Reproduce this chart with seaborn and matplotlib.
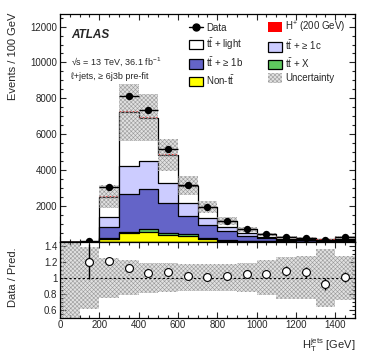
import matplotlib
matplotlib.use("Agg")
import matplotlib.pyplot as plt
import numpy as np
import seaborn as sns
from matplotlib.lines import Line2D
from matplotlib.patches import Patch
from matplotlib.ticker import MultipleLocator

# binning: 100 GeV bins from 0 to 1500
bin_edges = [0, 100, 200, 300, 400, 500, 600, 700, 800, 900, 1000, 1100, 1200, 1300, 1400, 1500]
bin_centers = [50, 150, 250, 350, 450, 550, 650, 750, 850, 950, 1050, 1150, 1250, 1350, 1450]

# stacked predictions (pre-fit), events per bin
non_tt = [0, 3, 150, 485, 560, 390, 335, 150, 80, 50, 30, 19, 15, 10, 18]
tt_x = [0, 1, 50, 90, 150, 95, 100, 55, 30, 20, 12, 8, 6, 4, 8]
tt_1b = [0, 8, 620, 2105, 2250, 1675, 1000, 745, 500, 280, 170, 110, 84, 56, 104]
tt_1c = [0, 5, 560, 1560, 1560, 1115, 740, 370, 245, 135, 85, 55, 42, 28, 52]
tt_light = [0, 8, 1150, 2990, 2400, 1565, 950, 615, 315, 225, 128, 80, 63, 42, 78]
h_plus = [0, 0, 40, 80, 60, 40, 25, 15, 8, 5, 3, 2, 1, 1, 1]

# relative uncertainty on the prediction
unc_rel = [1.0, 0.39, 0.25, 0.22, 0.19, 0.18, 0.17, 0.17, 0.17, 0.18, 0.22, 0.26, 0.27, 0.36, 0.28]

# data (bins from 100 GeV onwards)
data_x = [150, 250, 350, 450, 550, 650, 750, 850, 950, 1050, 1150, 1250, 1350, 1450]
data_y = [30, 3060, 8120, 7340, 5180, 3200, 1955, 1195, 745, 446, 296, 225, 129, 263]
ratio_err = [0.22, 0.02, 0.015, 0.015, 0.015, 0.02, 0.025, 0.03, 0.04, 0.05, 0.06, 0.07, 0.08, 0.065]

layers = [
    ("Non-tt", non_tt, "#ffff00"),
    ("ttX", tt_x, "#5fc85f"),
    ("tt1b", tt_1b, "#6464c8"),
    ("tt1c", tt_1c, "#ccccff"),
    ("ttlight", tt_light, "#ffffff"),
]
unc_face = (0.62, 0.62, 0.62, 0.3)
unc_color = "#9a9a9a"
unc_hatch = "xxxxxxxx"

sns.set_style("ticks")
plt.rcParams["font.family"] = ["Liberation Sans", "DejaVu Sans"]
plt.rcParams["mathtext.fontset"] = "custom"
plt.rcParams["mathtext.rm"] = "Liberation Sans"
plt.rcParams["mathtext.it"] = "Liberation Sans:italic"
plt.rcParams["mathtext.bf"] = "Liberation Sans:bold"
plt.rcParams["hatch.linewidth"] = 0.4
plt.rcParams["axes.linewidth"] = 0.9

fig = plt.figure(figsize=(3.74, 3.59), dpi=100)
ax = fig.add_axes([0.1604, 0.326, 0.7888, 0.635])
ax_r = fig.add_axes([0.1604, 0.115, 0.7888, 0.211])

centers = np.array(bin_centers)
cum = np.cumsum([np.array(l[1], dtype=float) for l in layers], axis=0)
total = cum[-1]

# draw cumulative stack from top down so each layer covers the one above it
for i in range(len(layers) - 1, -1, -1):
    sns.histplot(x=centers, weights=cum[i], bins=bin_edges, element="step", fill=True,
                 color=layers[i][2], alpha=1, edgecolor="black", linewidth=0.9, ax=ax)

# H+ on top of the stack, only its top edge is visible
ax.hlines(total + np.array(h_plus), bin_edges[:-1], bin_edges[1:], color="red",
          linestyle=(0, (1.5, 1.5)), linewidth=0.8, zorder=3)

unc = np.array(unc_rel)
ax.bar(centers, 2 * unc * total, bottom=total * (1 - unc), width=100,
       facecolor=unc_face, edgecolor=unc_color, hatch=unc_hatch, linewidth=0, zorder=4)

data_x = np.array(data_x)
data_y = np.array(data_y, dtype=float)
pred_at_data = total[1:]
ratio = data_y / pred_at_data
data_err = np.array(ratio_err) * pred_at_data

ax.errorbar(data_x, data_y, xerr=50, yerr=data_err, fmt="none", ecolor="black",
            elinewidth=1, capsize=0, zorder=5)
sns.scatterplot(x=data_x, y=data_y, color="black", s=28, edgecolor="black",
                linewidth=0, zorder=6, ax=ax)

ax.set_xlim(0, 1500)
ax.set_ylim(0, 12700)
ax.set_yticks([2000, 4000, 6000, 8000, 10000, 12000])
ax.yaxis.set_minor_locator(MultipleLocator(500))
ax.xaxis.set_major_locator(MultipleLocator(200))
ax.xaxis.set_minor_locator(MultipleLocator(50))
ax.set_xticklabels([])
ax.set_xlabel("")
ax.set_ylabel("")

# ratio panel
ax_r.bar(centers, 2 * unc, bottom=1 - unc, width=100, facecolor=unc_face,
         edgecolor=unc_color, hatch=unc_hatch, linewidth=0, zorder=1)
ax_r.axhline(1, color="black", linestyle=(0, (2, 2)), linewidth=0.8, zorder=2)
ax_r.errorbar(data_x, ratio, yerr=ratio_err, fmt="none", ecolor="black",
              elinewidth=1, capsize=0, zorder=3)
sns.scatterplot(x=data_x, y=ratio, marker="o", facecolor="white", edgecolor="black",
                linewidth=0.8, s=32, zorder=4, ax=ax_r)
ax_r.set_xlim(0, 1500)
ax_r.set_ylim(0.5, 1.45)
ax_r.set_yticks([0.6, 0.8, 1.0, 1.2, 1.4])
ax_r.set_yticklabels(["0.6", "0.8", "1", "1.2", "1.4"])
ax_r.yaxis.set_minor_locator(MultipleLocator(0.05))
ax_r.xaxis.set_major_locator(MultipleLocator(200))
ax_r.xaxis.set_minor_locator(MultipleLocator(50))
ax_r.set_xlabel("")
ax_r.set_ylabel("")

for a in (ax, ax_r):
    a.tick_params(which="both", direction="in", top=True, right=True, labelsize=7, pad=2)
    a.tick_params(which="major", length=4.5, width=0.8)
    a.tick_params(which="minor", length=2.5, width=0.8)
    for s in a.spines.values():
        s.set_visible(True)
        s.set_color("black")
        s.set_zorder(10)

fig.text(0.035, 0.965, "Events / 100 GeV", rotation=90, ha="center", va="top", fontsize=8)
fig.text(0.035, 0.228, "Data / Pred.", rotation=90, ha="center", va="center", fontsize=8)
fig.text(0.949, 0.039, r"$\mathrm{H}_{\mathrm{T}}^{\mathrm{jets}}$ [GeV]", ha="right",
         va="center", fontsize=8)

fig.text(0.19, 0.902, "ATLAS", fontsize=8.5, fontweight="bold", fontstyle="italic",
         ha="left", va="center")
fig.text(0.19, 0.828, r"√s = 13 TeV, 36.1 fb$^{-1}$", fontsize=6.5, ha="left", va="center")
fig.text(0.19, 0.788, "ℓ+jets, ≥ 6j3b pre-fit", fontsize=6.5, ha="left", va="center")

tt = r"$\mathrm{t\bar{t}}$"
handles = [
    Line2D([], [], color="black", marker="o", markersize=5, linewidth=1),
    Patch(facecolor="#ffffff", edgecolor="black", linewidth=0.9),
    Patch(facecolor="#6464c8", edgecolor="black", linewidth=0.9),
    Patch(facecolor="#ffff00", edgecolor="black", linewidth=0.9),
    Patch(facecolor="#ff0000", edgecolor="#ff0000", linewidth=0),
    Patch(facecolor="#ccccff", edgecolor="black", linewidth=0.9),
    Patch(facecolor="#5fc85f", edgecolor="black", linewidth=0.9),
    Patch(facecolor=unc_face, edgecolor=unc_color, hatch=unc_hatch, linewidth=0),
]
labels = ["Data", tt + " + light", tt + " + ≥ 1b", "Non-" + tt,
          r"H$^{+}$ (200 GeV)", tt + " + ≥ 1c", tt + " + X", "Uncertainty"]
fig.legend(handles, labels, ncol=2, loc="upper left", bbox_to_anchor=(0.505, 0.945),
           frameon=False, fontsize=7, borderpad=0, borderaxespad=0,
           handlelength=1.45, handleheight=1.15, handletextpad=0.3,
           labelspacing=0.35, columnspacing=2.6)

fig.savefig("out.png", dpi=100)
